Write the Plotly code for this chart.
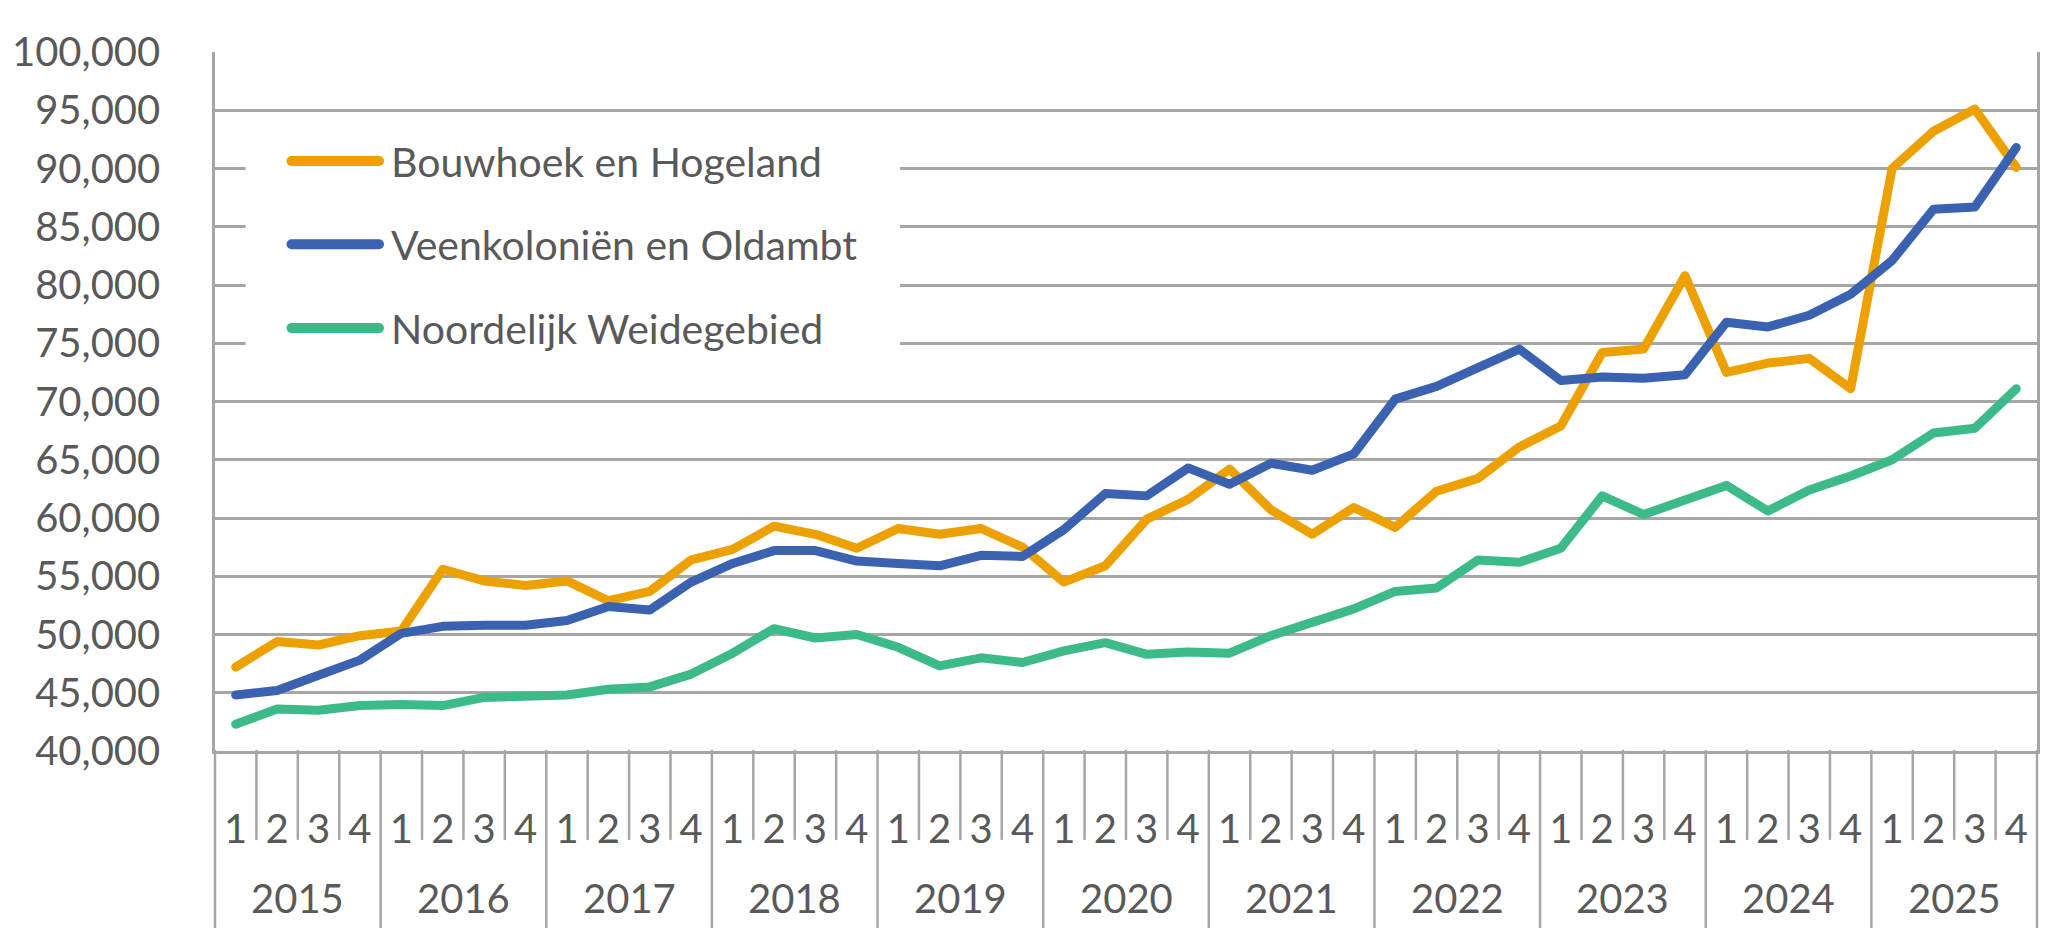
import plotly.graph_objects as go

# quarterly values, 2015 Q1 .. 2025 Q4
year_labels = [str(y) for y in range(2015, 2026)]
quarter_labels = ["1", "2", "3", "4"]

bouwhoek = [47200, 49400, 49100, 49900, 50300, 55600, 54600, 54200,
            54600, 52900, 53700, 56400, 57300, 59300, 58600, 57400,
            59100, 58600, 59100, 57500, 54500, 55900, 59900, 61600,
            64200, 60700, 58600, 60900, 59200, 62300, 63400, 66100,
            67900, 74200, 74500, 80800, 72500, 73300, 73700, 71100,
            90000, 93200, 95100, 90100]
veenkolonien = [44800, 45200, 46500, 47800, 50100, 50700, 50800, 50800,
                51200, 52400, 52100, 54500, 56100, 57200, 57200, 56300,
                56100, 55900, 56800, 56700, 59000, 62100, 61900, 64300,
                62900, 64700, 64100, 65500, 70200, 71300, 72900, 74500,
                71800, 72100, 72000, 72300, 76800, 76400, 77400, 79200,
                82100, 86500, 86700, 91800]
weidegebied = [42300, 43600, 43500, 43900, 44000, 43900, 44600, 44700,
               44800, 45300, 45500, 46600, 48400, 50500, 49700, 50000,
               48900, 47300, 48000, 47600, 48600, 49300, 48300, 48500,
               48400, 49900, 51100, 52200, 53700, 54000, 56400, 56200,
               57400, 61900, 60300, 61600, 62800, 60600, 62400, 63600,
               65000, 67300, 67700, 71100]

series = [
    ("Bouwhoek en Hogeland", bouwhoek, "#EDA100"),
    ("Veenkoloniën en Oldambt", veenkolonien, "#3A62B0"),
    ("Noordelijk Weidegebied", weidegebied, "#3DBA8A"),
]

periods = [f"{y} Q{q}" for y in year_labels for q in quarter_labels]
n = len(periods)

FONT = "Lato"
TXT = "#595959"
GRID = "#A6A6A6"

fig = go.Figure()
for name, vals, col in series:
    fig.add_trace(go.Scatter(x=periods, y=vals, mode="lines", name=name,
                             line=dict(color=col, width=9), showlegend=False))

shapes = []
annotations = []

# category separators below the axis (short per quarter, long per year)
for k in range(n + 1):
    long_line = k % 4 == 0
    shapes.append(dict(type="line", xref="paper", yref="paper",
                       x0=k / n, x1=k / n, y0=0, y1=-0.255 if long_line else -0.126,
                       line=dict(color=GRID, width=2.5)))

# year labels centred under their four quarters
for j, yr in enumerate(year_labels):
    annotations.append(dict(text=yr, xref="paper", yref="paper",
                            x=(4 * j + 2) / n, y=-0.21, xanchor="center",
                            yanchor="middle", showarrow=False,
                            font=dict(family=FONT, size=40, color=TXT)))

# legend drawn by hand inside the plot (white box over the gridlines)
shapes.append(dict(type="rect", xref="paper", yref="paper", layer="above",
                   x0=0.0168, x1=0.376, y0=0.53, y1=0.895,
                   fillcolor="white", line=dict(width=0)))
leg_y = [0.844, 0.725, 0.605]
for (name, vals, col), ly in zip(series, leg_y):
    shapes.append(dict(type="line", xref="paper", yref="paper", layer="above",
                       x0=0.0420, x1=0.0900, y0=ly, y1=ly,
                       line=dict(color=col, width=10)))
    annotations.append(dict(text=name, xref="paper", yref="paper",
                            x=0.0955, y=ly, xanchor="left", yanchor="middle",
                            showarrow=False,
                            font=dict(family=FONT, size=41, color=TXT)))

fig.update_layout(
    width=2053, height=928,
    margin=dict(l=201, r=16, t=52, b=177),
    paper_bgcolor="white", plot_bgcolor="white",
    font=dict(family=FONT, size=40, color=TXT),
    shapes=shapes, annotations=annotations,
    showlegend=False,
)
fig.update_xaxes(type="category", range=[-0.5, n - 0.5],
                 tickvals=periods, ticktext=quarter_labels * len(year_labels),
                 tickangle=0, showgrid=False, ticks="",
                 showline=True, linecolor=GRID, linewidth=2.5,
                 ticklabelstandoff=41,
                 tickfont=dict(family=FONT, size=40, color=TXT))
fig.update_yaxes(range=[40000, 100000], dtick=5000, tickformat=",",
                 showgrid=True, gridcolor=GRID, gridwidth=2.5,
                 showline=True, linecolor=GRID, linewidth=2.5, mirror=True,
                 zeroline=False, ticks="", ticklabelstandoff=44,
                 tickfont=dict(family=FONT, size=40, color=TXT))

# no page margin; round joins/caps like the original lines
js = """
document.body.style.margin = '0';
document.querySelectorAll('.scatterlayer path.js-line, .shapelayer path').forEach(function (p) {
    p.style.strokeLinejoin = 'round';
    p.style.strokeLinecap = 'round';
});
"""
fig.write_html("out.html", post_script=js, config={"displayModeBar": False})
